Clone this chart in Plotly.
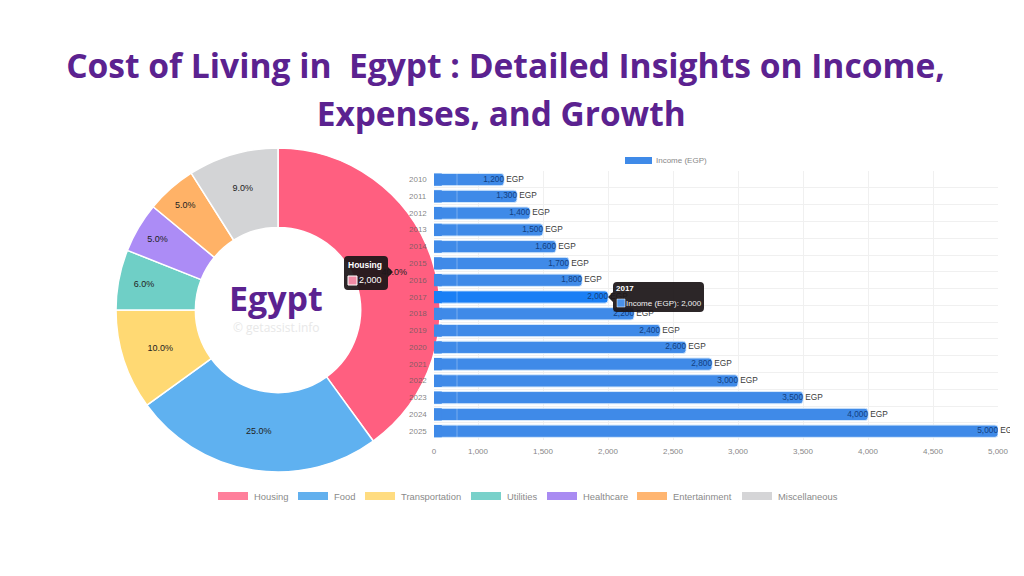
import plotly.graph_objects as go

W, H = 1016, 568   # the page body adds an 8 px margin
FONT = "Liberation Sans"
PURPLE = "#5B2290"

# --- data -------------------------------------------------------------
years = ["2010", "2011", "2012", "2013", "2014", "2015", "2016", "2017",
         "2018", "2019", "2020", "2021", "2022", "2023", "2024", "2025"]
income = [1200, 1300, 1400, 1500, 1600, 1700, 1800, 2000,
          2200, 2400, 2600, 2800, 3000, 3500, 4000, 5000]
categories = ["Housing", "Food", "Transportation", "Utilities",
              "Healthcare", "Entertainment", "Miscellaneous"]
shares = [40, 25, 10, 6, 5, 5, 9]
x_tick_values = [1000, 1500, 2000, 2500, 3000, 3500, 4000, 4500, 5000]
x_tick_labels = ["1,000", "1,500", "2,000", "2,500", "3,000", "3,500", "4,000", "4,500", "5,000"]

# --- style ------------------------------------------------------------
slice_colors = ["#FF5F80", "#5FB1F0", "#FFD973", "#6FCFC6", "#AC8CF6", "#FFB267", "#D3D4D6"]
legend_colors = ["#FF7F9B", "#62B0EE", "#FFDC80", "#79D1CA", "#A98BF2", "#FFB570", "#D5D5D7"]
BAR = "#3F8AE8"
BAR_HI = "#1A7FF5"
AXIS_START = 661.5  # the picture's "0" tick sits where this value falls on the 1,000-5,000 scale
legend_boxes = [218, 298, 365, 471, 547, 637, 742]
bar_colors = [BAR_HI if y == "2017" else BAR for y in years]


def px(x):
    return (x - 8) / W


def py(y):
    return 1 - (y - 8) / H


fig = go.Figure()

fig.add_trace(go.Pie(
    labels=categories, values=shares, sort=False, direction="clockwise", rotation=0,
    hole=0.51, marker=dict(colors=slice_colors, line=dict(color="white", width=1.5)),
    texttemplate="%{percent:.1%}", textposition="inside", insidetextorientation="horizontal",
    textfont=dict(family=FONT, size=9, color="#222222"),
    domain=dict(x=[px(116), px(440)], y=[py(472), py(148)]),
    showlegend=False, hoverinfo="skip",
))

fig.add_trace(go.Bar(
    y=years, x=income, orientation="h", name="Income (EGP)",
    marker=dict(color=bar_colors, line=dict(color="#D5E8FB", width=1)),
    showlegend=False, hoverinfo="skip",
))
fig.add_trace(go.Scatter(
    y=years, x=income, mode="text", text=[f"{v:,}" for v in income],
    textposition="middle left", textfont=dict(family=FONT, size=8.3, color="#123F80"),
    showlegend=False, hoverinfo="skip",
))
fig.add_trace(go.Scatter(
    y=years, x=income, mode="text", text=["\u00a0EGP" for _ in income],
    textposition="middle right", textfont=dict(family=FONT, size=8.3, color="#3A3A3A"),
    showlegend=False, hoverinfo="skip", cliponaxis=False,
))

shapes = []
annotations = []


def note(x, y, text, size, color, family=FONT, xanchor="left"):
    annotations.append(dict(xref="paper", yref="paper", x=px(x), y=py(y), text=text, showarrow=False,
                            xanchor=xanchor, yanchor="middle",
                            font=dict(family=family, size=size, color=color)))


# the doughnut lies behind the bars in the picture, while Plotly paints pies over bars:
# repaint the start of each bar above it
for i, col in enumerate(bar_colors):
    shapes.append(dict(type="rect", xref="x", yref="y", x0=AXIS_START, x1=AXIS_START + 60,
                       y0=i - 0.365, y1=i + 0.365, fillcolor=col, line_width=0))
shapes.append(dict(type="line", xref="paper", yref="paper", x0=px(457), x1=px(457), y0=py(439), y1=py(172),
                   line=dict(color="rgba(255,255,255,0.3)", width=1)))

# year labels sit above the doughnut, so they are annotations rather than tick labels
for i, y in enumerate(years):
    annotations.append(dict(xref="paper", yref="y", x=px(429), y=i, text=y, showarrow=False,
                            xanchor="right", yanchor="middle",
                            font=dict(family=FONT, size=8, color="rgba(90,90,90,0.75)")))

# centre text
note(276, 298, "<b>Egypt</b>", 34, PURPLE, "Open Sans", "center")
note(276, 327, "© getassist.info", 12, "#E8E8E8", "Open Sans", "center")

# bar legend
shapes.append(dict(type="rect", xref="paper", yref="paper", x0=px(625), x1=px(652), y0=py(164), y1=py(157),
                   fillcolor=BAR, line_width=0))
note(654, 160, "Income (EGP)", 8, "#888888")

# doughnut legend
for left, name, col in zip(legend_boxes, categories, legend_colors):
    shapes.append(dict(type="rect", xref="paper", yref="paper", x0=px(left), x1=px(left + 30),
                       y0=py(500), y1=py(492), fillcolor=col, line_width=0))
    note(left + 34, 496, name, 9.4, "#8A8A8A")


def tooltip_path(x0, y0, x1, y1, caret_x, caret_y, r=4):
    d = f"M{px(x0 + r)},{py(y0)} L{px(x1 - r)},{py(y0)} Q{px(x1)},{py(y0)} {px(x1)},{py(y0 + r)} "
    if caret_x > x1:
        d += f"L{px(x1)},{py(caret_y - 5)} L{px(caret_x)},{py(caret_y)} L{px(x1)},{py(caret_y + 5)} "
    d += f"L{px(x1)},{py(y1 - r)} Q{px(x1)},{py(y1)} {px(x1 - r)},{py(y1)} L{px(x0 + r)},{py(y1)} "
    d += f"Q{px(x0)},{py(y1)} {px(x0)},{py(y1 - r)} "
    if caret_x < x0:
        d += f"L{px(x0)},{py(caret_y + 5)} L{px(caret_x)},{py(caret_y)} L{px(x0)},{py(caret_y - 5)} "
    d += f"L{px(x0)},{py(y0 + r)} Q{px(x0)},{py(y0)} {px(x0 + r)},{py(y0)} Z"
    return d


TIP = "rgba(28,22,24,0.93)"
shapes.append(dict(type="path", xref="paper", yref="paper", path=tooltip_path(344, 256, 388, 290, 393, 272),
                   fillcolor=TIP, line_width=0))
shapes.append(dict(type="rect", xref="paper", yref="paper", x0=px(348), x1=px(357), y0=py(285), y1=py(276),
                   fillcolor="#F08CA6", line=dict(color="white", width=1)))
note(346, 265, "<b>Housing</b>", 8.5, "white")
note(357, 280, f"{2000:,}", 9, "white")

shapes.append(dict(type="path", xref="paper", yref="paper", path=tooltip_path(613, 282, 704, 312, 608, 297),
                   fillcolor=TIP, line_width=0))
shapes.append(dict(type="rect", xref="paper", yref="paper", x0=px(617), x1=px(625), y0=py(307), y1=py(299),
                   fillcolor="#4B92E8", line=dict(color="white", width=0.5)))
note(614, 288, "<b>2017</b>", 8, "white")
note(624, 303, "Income (EGP): 2,000", 8, "#F2F2F2")

# the chart image ends here and cuts the last label
shapes.append(dict(type="rect", xref="paper", yref="paper", x0=px(1010), x1=1, y0=py(440), y1=py(420),
                   fillcolor="white", line_width=0))

fig.update_layout(
    width=W, height=H, autosize=False, margin=dict(l=0, r=0, t=0, b=0, autoexpand=False),
    paper_bgcolor="white", plot_bgcolor="white",
    title=dict(
        text="<b><span style='font-size:33.6px'>Cost of Living in  Egypt : Detailed Insights on Income,</span>"
             "<br><span style='font-size:33.4px'>Expenses, and Growth\u00a0</span></b>",
        x=px(505.5), xanchor="center", y=py(78), yanchor="top",
        font=dict(family="Open Sans", size=37, color=PURPLE)),
    bargap=0.27, barcornerradius=3,
    xaxis=dict(domain=[px(434), px(998)], range=[AXIS_START, 5000],
               tickmode="array", tickvals=[AXIS_START] + x_tick_values, ticktext=["0"] + x_tick_labels,
               showgrid=True, gridcolor="#F0F0F0", gridwidth=1, zeroline=False,
               ticks="outside", ticklen=4, tickcolor="rgba(0,0,0,0)",
               tickfont=dict(family=FONT, size=8, color="#888888"), showline=False),
    yaxis=dict(domain=[py(439.6), py(171.2)], type="category", categoryorder="array", categoryarray=years,
               range=[15.5, -0.5], showticklabels=False, showgrid=True, gridcolor="#F0F0F0",
               tickson="boundaries", zeroline=False, showline=False, ticks=""),
    shapes=shapes, annotations=annotations,
)

fig.write_html("out.html")
